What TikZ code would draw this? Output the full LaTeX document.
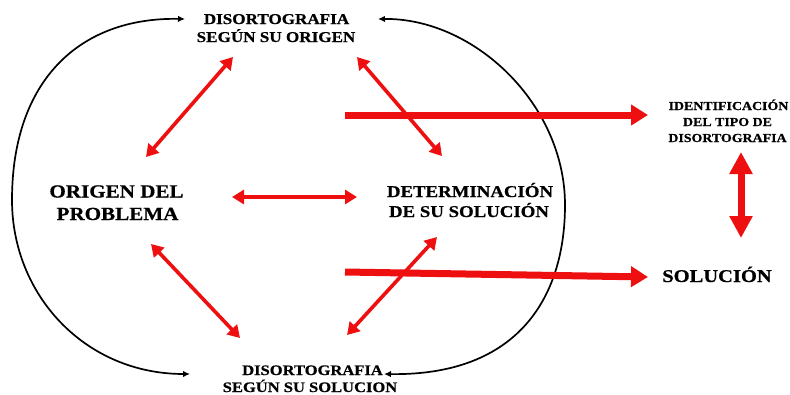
\documentclass[tikz,border=0pt]{standalone}
\usepackage{fontspec}
\setmainfont{Liberation Serif}[BoldFont={Liberation Serif Bold}, BoldFeatures={FakeBold=0.6}, FakeStretch=1.14]
\usetikzlibrary{arrows.meta}
\definecolor{arrowred}{RGB}{238,16,16}
\begin{document}
\begin{tikzpicture}[x=1pt,y=-1pt,
  lbl/.style={anchor=base, inner sep=0pt, text=black},
  fsA/.style={font=\fontsize{15}{18}\selectfont\bfseries},
  fsB/.style={font=\fontsize{18.5}{22}\selectfont\bfseries},
  fsC/.style={font=\fontsize{16.5}{20}\selectfont\bfseries},
  fsD/.style={font=\fontsize{12.2}{15}\selectfont\bfseries},
  fsE/.style={font=\fontsize{18}{22}\selectfont\bfseries},
  fsF/.style={font=\fontsize{14.5}{17}\selectfont\bfseries},
  cyc/.style={draw=black, line width=1.7pt, {Latex[length=7pt,width=6.5pt]}-{Latex[length=7pt,width=6.5pt]}},
  redthin/.style={draw=arrowred, line width=3.6pt, {Triangle[length=12pt,width=14pt]}-{Triangle[length=12pt,width=14pt]}},
  redthick/.style={draw=arrowred, line width=7pt, -{Triangle[length=17pt,width=20pt]}},
  redvert/.style={draw=arrowred, line width=7pt, {Triangle[length=22pt,width=22pt]}-{Triangle[length=22pt,width=22pt]}}
]
\useasboundingbox (0,0) rectangle (790,394);
\fill[white] (0,0) rectangle (790,394);

% texts
\node[lbl,fsA] (t1) at (276.5,24) {DISORTOGRAFIA};
\node[lbl,fsA] (t2) at (276,42) {SEGÚN SU ORIGEN};
\node[lbl,fsB] (o1) at (116.5,197.5) {ORIGEN DEL};
\node[lbl,fsB] (o2) at (117.5,220) {PROBLEMA};
\node[lbl,fsC] (d1) at (470,197) {DETERMINACIÓN};
\node[lbl,fsC] (d2) at (469,217) {DE SU SOLUCIÓN};
\node[lbl,fsD] (i1) at (728.5,110) {IDENTIFICACIÓN};
\node[lbl,fsD] (i2) at (727.5,126) {DEL TIPO DE};
\node[lbl,fsD] (i3) at (727.5,142) {DISORTOGRAFIA};
\node[lbl,fsE] (s1) at (717,282) {SOLUCIÓN};
\node[lbl,fsF] (b1) at (312.5,375) {DISORTOGRAFIA};
\node[lbl,fsF] (b2) at (310,392) {SEGÚN SU SOLUCION};

% black cycle arcs
\coordinate (ltop) at (185,19);
\coordinate (lbot) at (190,374);
\coordinate (rtop) at (378,19);
\coordinate (rbot) at (384,374);
\draw[cyc] (ltop) .. controls (80,17) and (12,80) .. (12,200)
  .. controls (12,295) and (85,374) .. (lbot);
\draw[cyc] (rtop) .. controls (474,18) and (565,104) .. (565,205)
  .. controls (565,295) and (520,376) .. (rbot);

% red double arrows
\coordinate (a1) at (233,57);   \coordinate (a2) at (146,157);
\coordinate (b1c) at (357,57);  \coordinate (b2c) at (442,156);
\coordinate (c1) at (232,197);  \coordinate (c2) at (357,197);
\coordinate (e1) at (151,244);  \coordinate (e2) at (240,338);
\coordinate (f1) at (347,335);  \coordinate (f2) at (437,237);
\draw[redthin] (a1) -- (a2);
\draw[redthin] (b1c) -- (b2c);
\draw[redthin] (c1) -- (c2);
\draw[redthin] (e1) -- (e2);
\draw[redthin] (f1) -- (f2);

% thick arrows
\coordinate (g1) at (345,115);  \coordinate (g2) at (648,115);
\coordinate (h1) at (345,272);  \coordinate (h2) at (648,277);
\draw[redthick] (g1) -- (g2);
\draw[redthick] (h1) -- (h2);
\coordinate (v1) at (741,152);  \coordinate (v2) at (741,238);
\draw[redvert] (v1) -- (v2);
\end{tikzpicture}
\end{document}
